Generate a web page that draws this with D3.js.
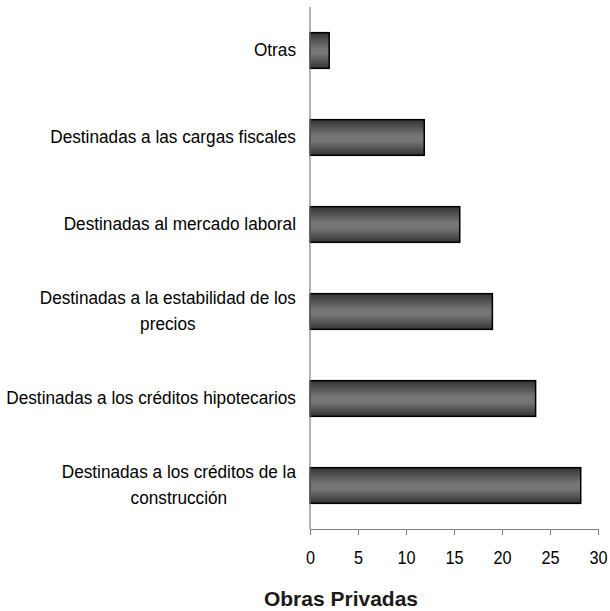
<!DOCTYPE html>
<html><head><meta charset="utf-8">
<script src="https://cdn.jsdelivr.net/npm/d3@7"></script>
<style>body{margin:0;background:#fff}svg{display:block}text{font-family:"Liberation Sans",Arial,sans-serif}</style>
</head><body><svg id="c" width="610" height="611"></svg>
<script>
const categories = [
  ["Otras"],
  ["Destinadas a las cargas fiscales"],
  ["Destinadas al mercado laboral"],
  ["Destinadas a la estabilidad de los", "precios"],
  ["Destinadas a los créditos hipotecarios"],
  ["Destinadas a los créditos de la", "construcción"]
];
const values = [2.0, 11.9, 15.6, 19.0, 23.5, 28.2];
const xTicks = [0, 5, 10, 15, 20, 25, 30];
const xTitle = "Obras Privadas";

(function () {
const svg = d3.select("#c");
const mL = 310, mR = 598, mT = 7, mB = 529;
const SX = 0.93;
const keys = categories.map((c, i) => i);
const x = d3.scaleLinear().domain([0, 30]).range([mL, mR]);
const y = d3.scaleBand().domain(keys).range([mT, mB]).paddingInner(0.59).paddingOuter(0.295);

const defs = svg.append("defs");
const g = defs.append("linearGradient").attr("id", "bg").attr("x1", 0).attr("y1", 0).attr("x2", 0).attr("y2", 1);
g.append("stop").attr("offset", "0%").attr("stop-color", "#333");
g.append("stop").attr("offset", "45%").attr("stop-color", "#767676");
g.append("stop").attr("offset", "60%").attr("stop-color", "#767676");
g.append("stop").attr("offset", "100%").attr("stop-color", "#333");

svg.append("g").selectAll("rect").data(values).join("rect")
  .attr("x", x(0)).attr("y", (d, i) => y(i))
  .attr("width", d => x(d) - x(0)).attr("height", y.bandwidth())
  .attr("fill", "url(#bg)").attr("stroke", "#000").attr("stroke-width", 1.5);

const xa = svg.append("g").attr("transform", `translate(0,${mB})`)
  .call(d3.axisBottom(x).tickValues(xTicks).tickSize(6));
xa.select(".domain").attr("stroke", "#808080").attr("d", `M${mL},0.5H${mR}`);
xa.selectAll(".tick line").attr("stroke", "#808080");
xa.selectAll(".tick text").attr("font-size", 17.5).attr("fill", "#000")
  .attr("font-family", '"Liberation Sans",Arial,sans-serif')
  .attr("y", 35).attr("dy", null).attr("transform", `scale(${SX},1)`);

svg.append("line").attr("x1", mL).attr("x2", mL).attr("y1", mT).attr("y2", mB)
  .attr("stroke", "#808080").attr("stroke-width", 1.2);

const lab = svg.append("g");
const FS = 18.5, rightEdge = 296;
categories.forEach((lines, i) => {
  const cy = y(i) + y.bandwidth() / 2;
  const lh = 26;
  const t = lab.append("text").attr("font-size", FS).attr("fill", "#000");
  const n = lines.length;
  const spans = lines.map((s, k) => t.append("tspan").text(s)
    .attr("y", cy + (k - (n - 1) / 2) * lh).attr("dy", "0.3em"));
  const maxW = d3.max(spans, s => s.node().getComputedTextLength()) * SX;
  const cx = rightEdge - maxW / 2;
  spans.forEach(s => s.attr("x", 0).attr("text-anchor", "middle"));
  t.attr("transform", `translate(${cx},0) scale(${SX},1)`);
});

svg.append("text").attr("x", 341).attr("y", 606).attr("text-anchor", "middle")
  .attr("font-size", 21).attr("font-weight", "bold").attr("fill", "#1a1a1a").text(xTitle);
})();
</script></body></html>
